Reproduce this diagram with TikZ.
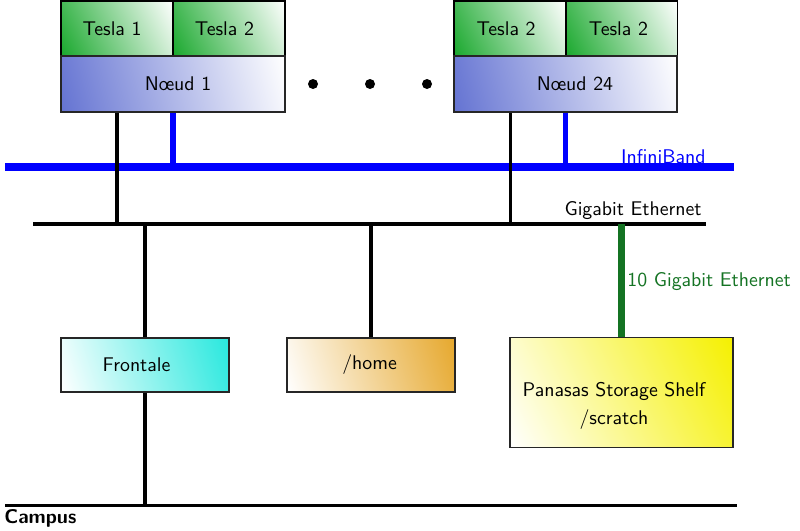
\documentclass[tikz,border=0pt]{standalone}
\usepackage{fontspec}
\definecolor{teslagreen}{RGB}{25,168,45}
\definecolor{noeudblue}{RGB}{100,115,210}
\definecolor{frontcyan}{RGB}{40,232,222}
\definecolor{homeorange}{RGB}{230,168,45}
\definecolor{panyellow}{RGB}{245,240,0}
\definecolor{tengreen}{RGB}{20,115,35}
% diagonal shading of a box: centre x, centre y, width, height (px units), colour at lower left, colour at upper right
\newcommand\diagshade[6]{%
  \begin{scope}
    \clip (#1-#3/2,#2-#4/2) rectangle (#1+#3/2,#2+#4/2);
    \pgfmathsetmacro\dgang{atan2(#4,#3)}%
    \pgfmathsetmacro\dgrad{veclen(#3,#4)/2}%
    \begin{scope}[transform canvas={shift={(#1,#2)}, rotate=\dgang}]
      \shade[left color=#5, right color=#6] (-\dgrad,-\dgrad) rectangle (\dgrad,\dgrad);
    \end{scope}
  \end{scope}}
\begin{document}
\begin{tikzpicture}[x=0.53pt,y=-0.53pt,
  box/.style={draw=black!85, line width=0.8pt, inner sep=0pt, font=\fontsize{10.5}{13}\sffamily},
  tesla/.style={box, line width=1pt, draw=black, minimum width=59.36pt, minimum height=29.15pt},
  noeud/.style={box, minimum height=29.68pt},
  store/.style={box, minimum width=89.04pt, minimum height=28.62pt},
  eth/.style={line width=1.6pt, black},
  ib/.style={line width=4.2pt, blue},
  ibv/.style={line width=2.7pt, blue},
  teng/.style={line width=3.2pt, tengreen},
  lbl/.style={font=\fontsize{10.5}{13}\sffamily, inner sep=0pt}
]
\useasboundingbox (0,0) rectangle (800,530);

% shadings
\diagshade{117}{28.5}{112}{55}{teslagreen}{white}
\diagshade{229}{28.5}{112}{55}{teslagreen}{white}
\diagshade{173}{84}{224}{56}{noeudblue}{white}
\diagshade{510}{28.5}{112}{55}{teslagreen}{white}
\diagshade{621.5}{28.5}{112}{55}{teslagreen}{white}
\diagshade{565.5}{84}{223}{56}{noeudblue}{white}
\diagshade{145}{365}{168}{54}{white}{frontcyan}
\diagshade{371}{365}{168}{54}{white}{homeorange}
\diagshade{621.5}{392.5}{223}{110}{white}{panyellow}

% nodes at top
\node[tesla] (t1) at (117,28.5) {Tesla 1\hspace*{5.3pt}};
\node[tesla] (t2) at (229,28.5) {Tesla 2\hspace*{4.8pt}};
\node[noeud, minimum width=118.72pt] (n1) at (173,84) {\hspace*{5.3pt}Nœud 1};
\node[tesla] (t3) at (510,28.5) {Tesla 2\hspace*{4.2pt}};
\node[tesla] (t4) at (621.5,28.5) {Tesla 2\hspace*{3.2pt}};
\node[noeud, minimum width=118.19pt] (n24) at (565.5,84) {\hspace*{10pt}Nœud 24};

% dots
\fill (313,84) circle[radius=5];
\fill (370,84) circle[radius=5];
\fill (427,84) circle[radius=5];

% buses
\coordinate (ibl) at (5,167);
\coordinate (ibr) at (734,167);
\coordinate (gel) at (33,224);
\coordinate (ger) at (706,224);
\coordinate (cpl) at (5,505);
\coordinate (cpr) at (737,505);

% bottom nodes
\node[store] (front) at (145,365) {Frontale\hspace*{9pt}};
\node[store] (home) at (371,365) {/home\hspace*{1.5pt}};
\node[box, minimum width=118.19pt, minimum height=58.3pt, align=center] (pan) at (621.5,392.5)
  {\rule{0pt}{22pt}Panasas Storage Shelf\hspace*{8pt}\\[2pt]/scratch\hspace*{8pt}};

% InfiniBand
\draw[ibv] (n1.south) -- (n1.south |- ibl);
\draw[ibv] (n24.south) -- (n24.south |- ibl);
\draw[ib] (ibl) -- (ibr);
\node[lbl, blue, anchor=base east] (iblbl) at (706,163) {InfiniBand};

% Gigabit Ethernet
\draw[eth] (n1.south -| t1) -- (t1 |- gel);
\draw[eth] (n24.south -| t3) -- (t3 |- gel);
\draw[eth] (gel) -- (ger);
\node[lbl, anchor=base east] (gelbl) at (702,215) {Gigabit Ethernet};
\draw[eth] (front.north) -- (front.north |- gel);
\draw[eth] (home.north) -- (home.north |- gel);
\draw[teng] (pan.north) -- (pan.north |- gel);
\node[lbl, text=tengreen, anchor=base west] (tenlbl) at (627,286) {10 Gigabit Ethernet};

% Campus
\draw[eth] (front.south) -- (front.south |- cpl);
\draw[eth] (cpl) -- (cpr);
\node[lbl, font=\fontsize{10.5}{13}\sffamily\bfseries, anchor=base west] (cplbl) at (4,523) {Campus};
\end{tikzpicture}
\end{document}
